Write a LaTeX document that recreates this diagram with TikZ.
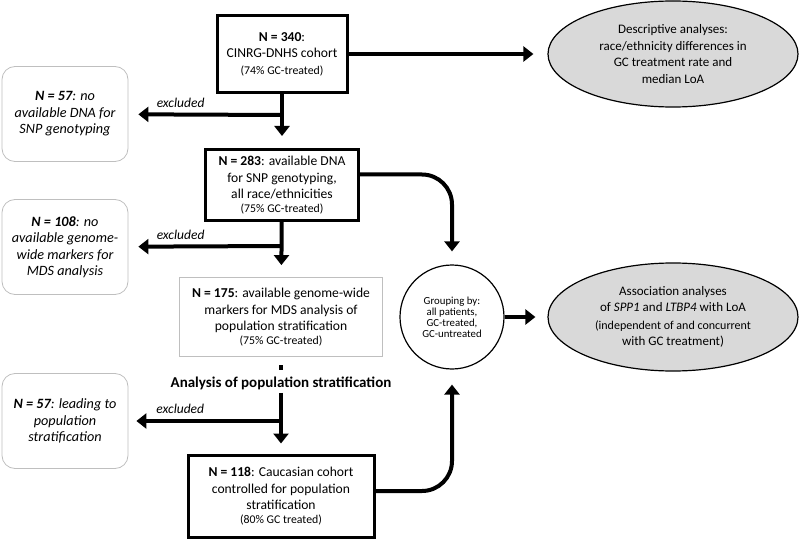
\documentclass[tikz,border=0pt]{standalone}
\usepackage{fontspec}
\setmainfont{Carlito}
\usepackage{tikz}
\usetikzlibrary{arrows.meta,positioning,shapes.geometric}
\definecolor{shade}{HTML}{D9D9D9}
\definecolor{rim}{HTML}{BFBFBF}

\begin{document}
\begin{tikzpicture}[x=1pt,y=-1pt,
  box/.style={draw,line width=3pt,align=center,inner sep=1pt,font=\fontsize{13.6}{16.5}\selectfont},
  softbox/.style={draw=rim,line width=0.8pt,align=center,inner sep=1pt,font=\fontsize{13.6}{16.5}\selectfont},
  exbox/.style={draw=rim,line width=0.8pt,rounded corners=13pt,minimum width=126pt,minimum height=95pt,align=center,font=\fontsize{14.2}{16.5}\selectfont\itshape},
  oval/.style={ellipse,draw,line width=1.2pt,fill=shade,minimum width=250pt,minimum height=106pt,align=center,font=\fontsize{13}{16.5}\selectfont},
  arrow/.style={-{Triangle[length=10pt,width=15pt]},line width=4pt},
  tag/.style={font=\fontsize{13.5}{15}\selectfont\itshape}
]
\useasboundingbox (0,0) rectangle (800,540);
\newcommand{\sm}{\fontsize{11.8}{13.5}\selectfont}
% main column
\node[box,minimum width=130pt,minimum height=77pt] (n340) at (282,54) {\textbf{N = 340}:\\CINRG-DNHS cohort\\{\sm (74\% GC-treated)}};
\node[box,minimum width=153pt,minimum height=71pt] (n283) at (282,185) {\textbf{N = 283}: available DNA\\for SNP genotyping,\\all race/ethnicities\\[-3pt]{\sm (75\% GC-treated)}};
\node[softbox,minimum width=203pt,minimum height=79pt] (n175) at (281,317) {\textbf{N = 175}: available genome-wide\\markers for MDS analysis of\\population stratification\\[-3pt]{\sm (75\% GC-treated)}};
\node[fill,minimum width=4pt,minimum height=5pt,inner sep=0pt] (dot) at (281,367) {};
\node[font=\fontsize{15}{17}\selectfont\bfseries] (strat) at (281,383) {Analysis of population stratification};
\node[box,minimum width=186pt,minimum height=82pt] (n118) at (281,496) {\textbf{N = 118}: Caucasian cohort\\controlled for population\\stratification\\[-3pt]{\sm (80\% GC treated)}};
% excluded
\node[exbox] (ex57) at (65,114) {\textbf{N = 57}: no\\available DNA for\\SNP genotyping};
\node[exbox] (ex108) at (65,247) {\textbf{N = 108}: no\\available genome-\\wide markers for\\MDS analysis};
\node[exbox] (ex57b) at (65,421) {\textbf{N = 57}: leading to\\population\\stratification};
\coordinate (j1) at (282,115);
\coordinate (j2) at (282,246);
\coordinate (j3) at (281,421);
% analyses
\node[oval] (desc) at (673,54) {Descriptive analyses:\\race/ethnicity differences in\\GC treatment rate and\\median LoA};
\node[circle,draw,line width=1.2pt,minimum size=104pt,align=center,inner sep=0pt,font=\fontsize{10.8}{11}\selectfont] (grp) at (452,317) {Grouping by:\\all patients,\\GC-treated,\\GC-untreated};
\node[oval,minimum height=108pt] (assoc) at (673,317) {Association analyses\\of \textit{SPP1} and \textit{LTBP4} with LoA\\[1pt]\fontsize{12}{16}\selectfont (independent of and concurrent\\with GC treatment)};

\draw[arrow,shorten >=12pt] (n340) -- (n283);
\draw[arrow,shorten >=10pt] (j1) -- (ex57) node[tag,pos=0.66,above=2pt] {excluded};
\draw[arrow,shorten >=12pt] (n283) -- (n175);
\draw[arrow,shorten >=10pt] (j2) -- (ex108) node[tag,pos=0.66,above=2pt] {excluded};
\draw[arrow,shorten >=10pt] (strat) -- (n118);
\draw[arrow,shorten >=8pt] (j3) -- (ex57b) node[tag,pos=0.66,above=2pt] {excluded};
\draw[arrow,shorten >=14pt] (n340) -- (desc);
\draw[arrow,rounded corners=30pt,shorten >=13pt] ([yshift=10.5pt]n283.east) -| (grp);
\draw[arrow,rounded corners=30pt,shorten >=15pt] ([yshift=5pt]n118.east) -| (grp);
\draw[arrow,shorten >=12pt] (grp) -- (assoc);
\end{tikzpicture}
\end{document}
